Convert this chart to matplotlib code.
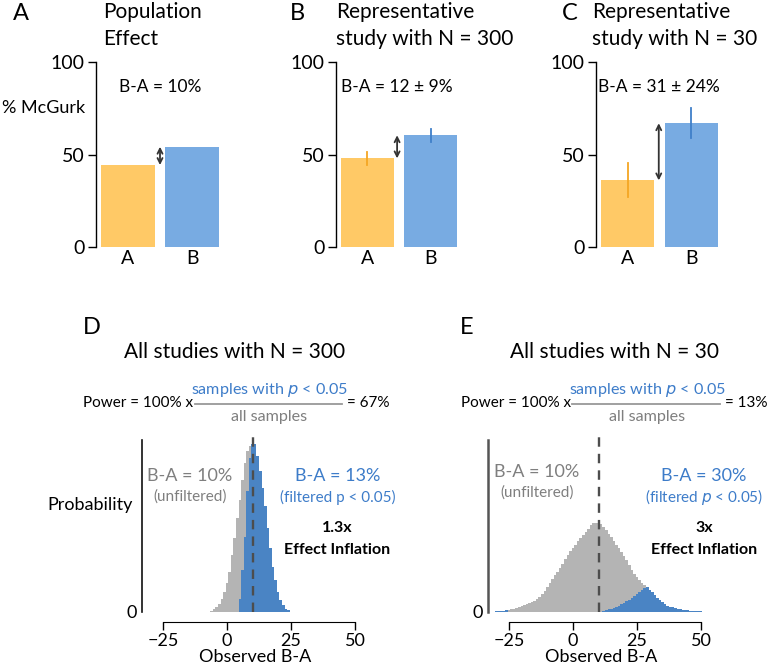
"""Effect inflation figure: population effect, single studies, and filtered distributions."""
import matplotlib
matplotlib.use("Agg")
import matplotlib.pyplot as plt
from matplotlib.lines import Line2D

plt.rcParams["font.family"] = ["Lato", "DejaVu Sans"]

ORANGE = "#FFC966"
ORANGE_ERR = "#F5A623"
BLUE_BAR = "#78ABE2"
BLUE_ERR = "#3F7FC9"
GRAY_HIST = "#B4B4B4"
BLUE_HIST = "#4A84C4"
BLUE_TEXT = "#3D7CC9"
GRAY_TEXT = "#7F7F7F"

# top row: % McGurk for conditions A and B
CONDITIONS = ["A", "B"]
POP_MEANS = [44.3, 54.2]
N300_MEANS = [47.9, 60.4]
N300_ERR = [3.6, 3.5]
N30_MEANS = [36.0, 66.9]
N30_ERR = [9.2, 8.1]

# bottom row: histograms of observed B-A (probability, %), 1-unit bins
D_BINS = list(range(-6, 25))
D_ALL = [0.04, 0.12, 0.23, 0.39, 0.62, 0.94, 1.33, 1.87, 2.65, 3.43, 4.37,
         5.23, 6.16, 6.94, 7.49, 7.72, 7.80, 7.80, 7.25, 6.55, 5.77, 4.91,
         3.90, 2.96, 2.11, 1.48, 0.94, 0.55, 0.31, 0.16, 0.08]
D_SIG_BINS = list(range(5, 25))
D_SIG = [0.62, 1.95, 3.51, 5.62, 7.18, 7.80, 7.80, 7.25, 6.55, 5.77, 4.91,
         3.90, 2.96, 2.11, 1.48, 0.94, 0.55, 0.31, 0.16, 0.08]

E_BINS = list(range(-30, 51))
E_ALL = [0.03, 0.04, 0.05, 0.06, 0.07, 0.09, 0.12, 0.14, 0.18, 0.21,
         0.26, 0.31, 0.35, 0.41, 0.46, 0.53, 0.61, 0.72, 0.85, 1.00,
         1.17, 1.35, 1.52, 1.70, 1.88, 2.06, 2.24, 2.45, 2.67, 2.83,
         2.97, 3.13, 3.30, 3.44, 3.58, 3.73, 3.87, 4.04, 4.13, 4.15,
         4.15, 4.09, 3.95, 3.81, 3.64, 3.48, 3.30, 3.13, 2.99, 2.81,
         2.60, 2.40, 2.18, 1.97, 1.76, 1.63, 1.49, 1.37, 1.25, 1.14,
         1.02, 0.91, 0.78, 0.66, 0.54, 0.46, 0.37, 0.30, 0.25, 0.21,
         0.19, 0.16, 0.13, 0.11, 0.09, 0.07, 0.06, 0.05, 0.04, 0.03,
         0.03]
E_SIG_BINS = list(range(-30, -25)) + list(range(12, 51))
E_SIG = [0.03, 0.04, 0.05, 0.06, 0.07,
         0.05, 0.08, 0.12, 0.14, 0.17, 0.22, 0.28, 0.35, 0.42, 0.50,
         0.57, 0.65, 0.74, 0.84, 0.93, 1.02, 1.11, 1.14, 1.02, 0.91,
         0.78, 0.66, 0.54, 0.46, 0.37, 0.30, 0.25, 0.21, 0.19, 0.16,
         0.13, 0.11, 0.09, 0.07, 0.06, 0.05, 0.04, 0.03, 0.03]

W, H = 768, 666


def fx(px):
    return px / W


def fy(py):
    return 1 - py / H


def runs(bins, vals):
    # split bins into contiguous stretches so each one is a single filled step
    out, cur_b, cur_v = [], [], []
    for b, v in zip(bins, vals):
        if cur_b and b != cur_b[-1] + 1:
            out.append((cur_b, cur_v))
            cur_b, cur_v = [], []
        cur_b.append(b)
        cur_v.append(v)
    if cur_b:
        out.append((cur_b, cur_v))
    return out


def draw_hist(ax, bins, vals, color):
    for b, v in runs(bins, vals):
        edges = [x - 0.5 for x in b] + [b[-1] + 0.5]
        ax.stairs(v, edges, fill=True, color=color, linewidth=0)


def bar_panel(fig, left_px, width_px, means, errs, letter, letter_px, title,
              title_px, label, arrow_px):
    ax = fig.add_axes([fx(left_px), fy(247), width_px / W, (247 - 62) / H])
    ax.bar([0, 1], means, width=0.83, color=[ORANGE, BLUE_BAR], linewidth=0)
    if errs is not None:
        for i, c in enumerate([ORANGE_ERR, BLUE_ERR]):
            ax.plot([i, i], [means[i] - errs[i], means[i] + errs[i]],
                    color=c, lw=1.3)
    ax.annotate("", xy=(arrow_px, means[1]), xytext=(arrow_px, means[0]),
                arrowprops=dict(arrowstyle="<->", color="#333333", lw=1.3,
                                shrinkA=0, shrinkB=0, mutation_scale=9))
    ax.text(arrow_px, 86.5, label, ha="center", va="center", fontsize=12.5)
    ax.set_xlim(-0.5, 1.5)
    ax.set_ylim(0, 100)
    ax.set_yticks([0, 50, 100])
    ax.set_xticks([0, 1])
    ax.set_xticklabels(CONDITIONS)
    ax.tick_params(axis="x", length=0, labelsize=14, pad=2)
    ax.tick_params(axis="y", length=6, width=1.0, labelsize=14, pad=2)
    for side in ("top", "right", "bottom"):
        ax.spines[side].set_visible(False)
    ax.spines["left"].set_linewidth(1.0)
    fig.text(fx(letter_px), fy(14), letter, fontsize=17, ha="center",
             va="center")
    line1, line2 = title.split("\n")
    fig.text(fx(title_px), fy(12), line1, fontsize=15, ha="left",
             va="center")
    fig.text(fx(title_px), fy(39), line2, fontsize=15, ha="left",
             va="center")
    return ax


def hist_panel(fig, left_px, bins, all_vals, sig_bins, sig_vals, spine_color,
               spine_width):
    ax = fig.add_axes([fx(left_px), fy(612), (227 - 142 + 2.56 * 55) / W,
                       (612 - 440) / H])
    draw_hist(ax, bins, all_vals, GRAY_HIST)
    draw_hist(ax, sig_bins, sig_vals, BLUE_HIST)
    ax.plot([10, 10], [0, 8.33], color="#4D4D4D", lw=1.7,
            linestyle=(0, (4, 3)), clip_on=False, zorder=3)
    ax.set_xlim(-33.2, 55)
    ax.set_ylim(0, 8.0)
    ax.set_xticks([-25, 0, 25, 50])
    ax.set_yticks([0])
    ax.tick_params(axis="x", length=6, width=1.0, labelsize=13, pad=2)
    ax.tick_params(axis="y", length=0, labelsize=13, pad=4)
    ax.spines["top"].set_visible(False)
    ax.spines["right"].set_visible(False)
    ax.spines["bottom"].set_position(("outward", 7))
    ax.spines["bottom"].set_bounds(-25, 50)
    ax.spines["left"].set_color(spine_color)
    ax.spines["left"].set_linewidth(spine_width)
    ax.set_xlabel("Observed B-A", fontsize=13, labelpad=0)
    return ax


def power_line(fig, left_px, frac_center_px, line_px, result):
    y = fy(403)
    fig.text(fx(left_px), y, "Power = 100% x", fontsize=11, ha="left",
             va="center")
    fig.text(fx(frac_center_px), fy(390), "samples with $p$ < 0.05",
             fontsize=11.6, ha="center", va="center", color=BLUE_TEXT)
    fig.text(fx(frac_center_px), fy(417), "all samples", fontsize=11.6,
             ha="center", va="center", color=GRAY_TEXT)
    fig.add_artist(Line2D([fx(line_px[0]), fx(line_px[1])], [fy(404), fy(404)],
                          color="#999999", lw=1.3))
    fig.text(fx(line_px[1] + 5), y, result, fontsize=11, ha="left",
             va="center")


fig = plt.figure(figsize=(W / 100, H / 100), dpi=100)

ax_a = bar_panel(fig, 96, 128, POP_MEANS, None, "A", 21,
                 "Population\nEffect", 103, "B-A = 10%", 0.5)
ax_a.set_ylabel("% McGurk", fontsize=13, rotation=0, ha="center",
                va="center")
ax_a.yaxis.set_label_coords(-0.41, 0.75)
bar_panel(fig, 335.7, 126.6, N300_MEANS, N300_ERR, "B", 297,
          "Representative\nstudy with N = 300", 336, "B-A = 12 ± 9%", 0.47)
bar_panel(fig, 595.7, 127.4, N30_MEANS, N30_ERR, "C", 570,
          "Representative\nstudy with N = 30", 592, "B-A = 31 ± 24%", 0.49)

ax_d = hist_panel(fig, 142, D_BINS, D_ALL, D_SIG_BINS, D_SIG, "#111111", 1.2)
ax_e = hist_panel(fig, 488, E_BINS, E_ALL, E_SIG_BINS, E_SIG, "#555555", 1.8)
ax_d.set_ylabel("Probability", fontsize=13, rotation=0, ha="right",
                va="center")
ax_d.yaxis.set_label_coords(-0.04, 0.62)

fig.text(fx(92), fy(327), "D", fontsize=17, ha="center", va="center")
fig.text(fx(467), fy(327), "E", fontsize=17, ha="center", va="center")
fig.text(fx(235), fy(352), "All studies with N = 300", fontsize=15,
         ha="center", va="center")
fig.text(fx(614), fy(352), "All studies with N = 30", fontsize=15,
         ha="center", va="center")

power_line(fig, 83, 269, (195, 342), "= 67%")
power_line(fig, 461, 647, (572, 720), "= 13%")

# panel D annotations
fig.text(fx(190), fy(476), "B-A = 10%", fontsize=13, ha="center",
         va="center", color=GRAY_TEXT)
fig.text(fx(190), fy(497), "(unfiltered)", fontsize=11, ha="center",
         va="center", color=GRAY_TEXT)
fig.text(fx(338), fy(476), "B-A = 13%", fontsize=13, ha="center",
         va="center", color=BLUE_TEXT)
fig.text(fx(338), fy(497), "(filtered p < 0.05)", fontsize=11, ha="center",
         va="center", color=BLUE_TEXT)
fig.text(fx(337), fy(528), "1.3x", fontsize=11.5, ha="center", va="center",
         fontweight="bold")
fig.text(fx(337), fy(550), "Effect Inflation", fontsize=11.5, ha="center",
         va="center", fontweight="bold")

# panel E annotations
fig.text(fx(537), fy(472), "B-A = 10%", fontsize=13, ha="center",
         va="center", color=GRAY_TEXT)
fig.text(fx(537), fy(493), "(unfiltered)", fontsize=11, ha="center",
         va="center", color=GRAY_TEXT)
fig.text(fx(704), fy(476), "B-A = 30%", fontsize=13, ha="center",
         va="center", color=BLUE_TEXT)
fig.text(fx(704), fy(497), "(filtered $p$ < 0.05)", fontsize=11,
         ha="center", va="center", color=BLUE_TEXT)
fig.text(fx(704), fy(528), "3x", fontsize=11.5, ha="center", va="center",
         fontweight="bold")
fig.text(fx(704), fy(550), "Effect Inflation", fontsize=11.5, ha="center",
         va="center", fontweight="bold")

fig.savefig("out.png", dpi=100)
